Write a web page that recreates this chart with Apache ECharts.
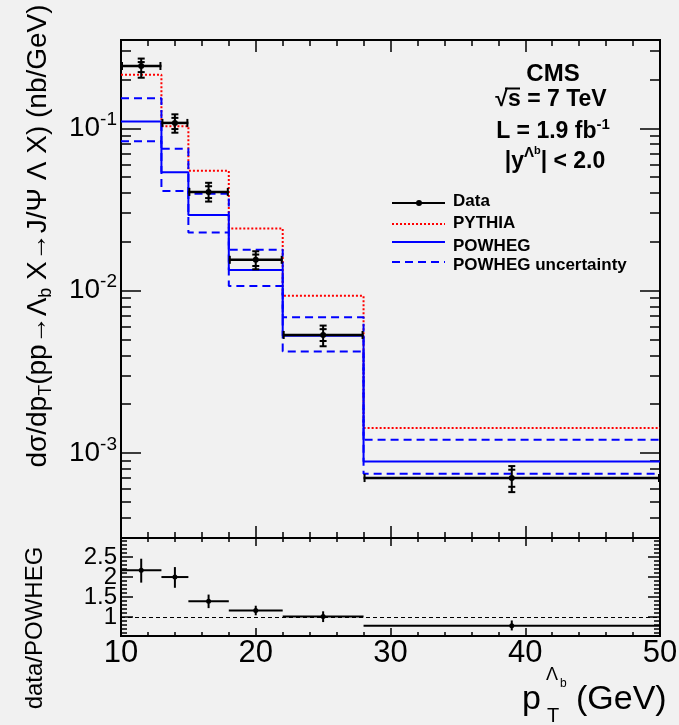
<!DOCTYPE html>
<html><head><meta charset="utf-8">
<script src="https://cdn.jsdelivr.net/npm/echarts@6/dist/echarts.min.js"></script>
<style>html,body{margin:0;padding:0;background:#f1f1f1;} #c{width:679px;height:725px;}</style>
</head><body><div id="c"></div>
<script>
// ---------- data ----------
const binLo = [10, 13, 15, 18, 22, 28];
const binHi = [13, 15, 18, 22, 28, 50];
const dataX = [11.5, 14, 16.5, 20, 25, 39];
const dataY = [0.242, 0.108, 0.0406, 0.0155, 0.00534, 0.000702];
const dataErrHi = [0.269, 0.122, 0.0462, 0.0175, 0.0061, 0.000832];
const dataErrLo = [0.205, 0.094, 0.0354, 0.01355, 0.00455, 0.000575];
const dataStatHi = [0.256, 0.116, 0.0440, 0.0167, 0.0058, 0.00079];
const dataStatLo = [0.222, 0.099, 0.0372, 0.0142, 0.0049, 0.00062];
const pythia = [0.214, 0.103, 0.0548, 0.0242, 0.00931, 0.001426];
const powheg = [0.110, 0.0537, 0.0293, 0.01343, 0.00528, 0.000889];
const powhegHi = [0.153, 0.075, 0.0395, 0.0179, 0.00686, 0.001208];
const powhegLo = [0.0832, 0.0412, 0.0228, 0.0107, 0.00422, 0.000747];
const ratio = [2.17, 2.0, 1.39, 1.16, 1.01, 0.78];
const ratioHi = [2.46, 2.25, 1.56, 1.28, 1.14, 0.91];
const ratioLo = [1.86, 1.73, 1.22, 1.04, 0.87, 0.66];
// ---------- ticks ----------
const xMajorTicks = [10, 20, 30, 40, 50];
const xMinorTicks = [12,14,16,18,22,24,26,28,32,34,36,38,42,44,46,48];
const yMajorTicks = [0.001, 0.01, 0.1];
const yMinorTicks = [0.0004,0.0005,0.0006,0.0007,0.0008,0.0009,0.002,0.003,0.004,0.005,0.006,0.007,0.008,0.009,0.02,0.03,0.04,0.05,0.06,0.07,0.08,0.09,0.2,0.3];
const rMajorTicks = [1, 1.5, 2, 2.5];
const rLabelsA = [1, 2];
const rLabelsB = [1.5, 2.5];
const rMinorTicks = [0.6,0.7,0.8,0.9,1.1,1.2,1.3,1.4,1.6,1.7,1.8,1.9,2.1,2.2,2.3,2.4,2.6,2.7,2.8,2.9];
const xRange = [10, 50];
const yRange = [0.0003, 0.35];
const rRange = [0.52, 2.98];

const F = 'Liberation Sans, Arial, Helvetica, sans-serif';
const chart = echarts.init(document.getElementById('c'), null, {renderer: 'canvas'});

function xAx(grid, pos, ticks, len, labels) {
  return {
    type: 'value', gridIndex: grid, position: pos, min: xRange[0], max: xRange[1],
    axisLine: {show: false}, splitLine: {show: false},
    axisTick: {show: true, inside: true, length: len, customValues: ticks, lineStyle: {color: '#000', width: 1.5}},
    axisLabel: labels ? {show: true, customValues: xMajorTicks, fontSize: 31, fontFamily: F, color: '#000', margin: 2, hideOverlap: false, showMinLabel: true, showMaxLabel: true} : {show: false}
  };
}
function yLog(pos, ticks, len, labels) {
  return {
    type: 'log', gridIndex: 0, position: pos, min: yRange[0], max: yRange[1], logBase: 10,
    axisLine: {show: false}, splitLine: {show: false},
    axisTick: {show: true, inside: true, length: len, customValues: ticks, lineStyle: {color: '#000', width: 1.5}},
    axisLabel: labels ? {
      show: true, customValues: yMajorTicks, margin: 4, hideOverlap: false,
      formatter: v => '{b|10}{s|' + Math.round(Math.log10(v)) + '}',
      rich: {b: {fontSize: 28, fontFamily: F, color: '#000', lineHeight: 36}, s: {fontSize: 19, fontFamily: F, color: '#000', verticalAlign: 'top', lineHeight: 22}}
    } : {show: false}
  };
}
function yRat(pos, ticks, len, labels) {
  return {
    type: 'value', gridIndex: 1, position: pos, min: rRange[0], max: rRange[1],
    axisLine: {show: false}, splitLine: {show: false},
    axisTick: {show: true, inside: true, length: len, customValues: ticks, lineStyle: {color: '#000', width: 1.5}},
    axisLabel: labels ? {show: true, customValues: labels, fontSize: 24, lineHeight: 18, fontFamily: F, color: '#000', margin: 4, hideOverlap: false, showMinLabel: true, showMaxLabel: true} : {show: false}
  };
}

function stepData(vals) {
  const pts = binLo.map((x, i) => [x, vals[i]]);
  pts.push([binHi[binHi.length - 1], vals[vals.length - 1]]);
  return pts;
}
function stepSeries(name, vals, color, type, width) {
  return {
    name: name, type: 'line', xAxisIndex: 0, yAxisIndex: 0, step: 'end', symbol: 'none',
    data: stepData(vals), lineStyle: {color: color, type: type, width: width}, silent: true, z: 3
  };
}

const dataPts = dataX.map((x, i) => [x, dataY[i], binLo[i], binHi[i], dataErrLo[i], dataErrHi[i], dataStatLo[i], dataStatHi[i]]);
const ratioPts = dataX.map((x, i) => [x, ratio[i], binLo[i], binHi[i], ratioLo[i], ratioHi[i]]);

function ln(a, b, w) { return {type: 'line', shape: {x1: a[0], y1: a[1], x2: b[0], y2: b[1]}, style: {stroke: '#000', lineWidth: w}}; }

const option = {
  backgroundColor: '#f1f1f1',
  animation: false,
  grid: [
    {left: 121, top: 40, width: 539, height: 498, show: true, borderColor: '#000', borderWidth: 2, backgroundColor: 'transparent', outerBoundsMode: 'none'},
    {left: 121, top: 538, width: 539, height: 98, show: true, borderColor: '#000', borderWidth: 2, backgroundColor: 'transparent', outerBoundsMode: 'none'}
  ],
  xAxis: [
    xAx(0, 'bottom', xMajorTicks, 12, false),
    xAx(0, 'bottom', xMinorTicks, 6, false),
    xAx(0, 'top', xMajorTicks, 12, false),
    xAx(0, 'top', xMinorTicks, 6, false),
    xAx(1, 'bottom', xMajorTicks, 8, true),
    xAx(1, 'bottom', xMinorTicks, 4, false),
    xAx(1, 'top', xMajorTicks, 8, false),
    xAx(1, 'top', xMinorTicks, 4, false)
  ],
  yAxis: [
    yLog('left', yMajorTicks, 20, true),
    yLog('left', yMinorTicks, 10, false),
    yLog('right', yMajorTicks, 20, false),
    yLog('right', yMinorTicks, 10, false),
    yRat('left', rMajorTicks, 12, rLabelsA),
    yRat('left', rMinorTicks, 6, rLabelsB),
    yRat('right', rMajorTicks, 12, null),
    yRat('right', rMinorTicks, 6, null)
  ],
  series: [
    stepSeries('PYTHIA', pythia, '#ff0000', [2, 2], 2),
    stepSeries('POWHEG uncertainty', powhegHi, '#0000ff', [8, 5], 2),
    stepSeries('POWHEG uncertainty', powhegLo, '#0000ff', [8, 5], 2),
    stepSeries('POWHEG', powheg, '#0000ff', 'solid', 2),
    {
      name: 'Data', type: 'custom', xAxisIndex: 0, yAxisIndex: 0, z: 5, silent: true,
      data: dataPts, encode: {x: 0, y: 1},
      renderItem: function (params, api) {
        const x = api.value(0), y = api.value(1);
        const c = api.coord([x, y]);
        const l = api.coord([api.value(2), y]);
        const r = api.coord([api.value(3), y]);
        const lo = api.coord([x, api.value(4)]);
        const hi = api.coord([x, api.value(5)]);
        const slo = api.coord([x, api.value(6)]);
        const shi = api.coord([x, api.value(7)]);
        const cw = 3.5, ew = 4;
        return {type: 'group', children: [
          ln(l, r, 2.5),
          ln([l[0] + 1, l[1] - ew], [l[0] + 1, l[1] + ew], 2),
          ln([r[0] - 1, r[1] - ew], [r[0] - 1, r[1] + ew], 2),
          ln(lo, hi, 2),
          ln([c[0] - cw, lo[1]], [c[0] + cw, lo[1]], 2),
          ln([c[0] - cw, hi[1]], [c[0] + cw, hi[1]], 2),
          ln([c[0] - cw, slo[1]], [c[0] + cw, slo[1]], 2),
          ln([c[0] - cw, shi[1]], [c[0] + cw, shi[1]], 2),
          {type: 'circle', shape: {cx: c[0], cy: c[1], r: 3}, style: {fill: '#000'}}
        ]};
      }
    },
    {
      name: 'Ratio', type: 'custom', xAxisIndex: 4, yAxisIndex: 4, z: 5, silent: true,
      data: ratioPts, encode: {x: 0, y: 1},
      renderItem: function (params, api) {
        const x = api.value(0), y = api.value(1);
        const c = api.coord([x, y]);
        const l = api.coord([api.value(2), y]);
        const r = api.coord([api.value(3), y]);
        const lo = api.coord([x, api.value(4)]);
        const hi = api.coord([x, api.value(5)]);
        return {type: 'group', children: [
          ln(l, r, 2),
          ln(lo, hi, 2),
          {type: 'circle', shape: {cx: c[0], cy: c[1], r: 2.5}, style: {fill: '#000'}}
        ]};
      }
    },
    {
      name: 'one', type: 'line', xAxisIndex: 4, yAxisIndex: 4, data: [], silent: true,
      markLine: {symbol: 'none', silent: true, label: {show: false}, lineStyle: {color: '#000', type: [4, 3], width: 1.2}, data: [{yAxis: 1}]}
    }
  ],
  graphic: [
    {type: 'text', x: 38, y: 236, rotation: Math.PI / 2, style: {
      text: '{m|dσ/dp}{s|T}{m|(pp→Λ}{s|b}{m| X→J/Ψ Λ X) (nb/GeV)}',
      rich: {m: {fontSize: 28, lineHeight: 34, fontFamily: F, fill: '#000'}, s: {fontSize: 18, lineHeight: 18, fontFamily: F, fill: '#000', verticalAlign: 'bottom'}},
      textAlign: 'center', textVerticalAlign: 'middle'}},
    {type: 'text', x: 35, y: 628, rotation: Math.PI / 2, style: {text: 'data/POWHEG', fontSize: 24, fontFamily: F, fill: '#000', textAlign: 'center', textVerticalAlign: 'middle'}},
    // x title
    {type: 'text', x: 522, y: 700, style: {text: 'p', fontSize: 34, fontFamily: F, fill: '#000', textAlign: 'left', textVerticalAlign: 'middle'}},
    {type: 'text', x: 547, y: 716, style: {text: 'T', fontSize: 20, fontFamily: F, fill: '#000', textAlign: 'left', textVerticalAlign: 'middle'}},
    {type: 'text', x: 546, y: 675, style: {text: 'Λ', fontSize: 18, fontFamily: F, fill: '#000', textAlign: 'left', textVerticalAlign: 'middle'}},
    {type: 'text', x: 560, y: 684, style: {text: 'b', fontSize: 12, fontFamily: F, fill: '#000', textAlign: 'left', textVerticalAlign: 'middle'}},
    {type: 'text', x: 576, y: 700, style: {text: '(GeV)', fontSize: 34, fontFamily: F, fill: '#000', textAlign: 'left', textVerticalAlign: 'middle'}},
    // CMS block
    {type: 'text', x: 553, y: 74, style: {text: 'CMS', fontSize: 24, fontWeight: 'bold', fontFamily: F, fill: '#000', textAlign: 'center', textVerticalAlign: 'middle'}},
    {type: 'text', x: 551, y: 100, style: {text: '√s = 7 TeV', fontSize: 23, fontWeight: 'bold', fontFamily: F, fill: '#000', textAlign: 'center', textVerticalAlign: 'middle'}},
    {type: 'line', shape: {x1: 505, y1: 88.5, x2: 520, y2: 88.5}, style: {stroke: '#000', lineWidth: 2}},
    {type: 'text', x: 553, y: 132, style: {text: '{m|L = 1.9 fb}{p|-1}',
      rich: {m: {fontSize: 23, fontWeight: 'bold', fontFamily: F, fill: '#000', lineHeight: 30}, p: {fontSize: 15, fontWeight: 'bold', fontFamily: F, fill: '#000', lineHeight: 15, verticalAlign: 'top'}},
      textAlign: 'center', textVerticalAlign: 'middle'}},
    {type: 'text', x: 555, y: 162, style: {text: '{m||y}{p|Λ}{q|b}{m|| < 2.0}',
      rich: {m: {fontSize: 23, fontWeight: 'bold', fontFamily: F, fill: '#000', lineHeight: 34},
             p: {fontSize: 15, fontWeight: 'bold', fontFamily: F, fill: '#000', lineHeight: 15, verticalAlign: 'top'},
             q: {fontSize: 11, fontWeight: 'bold', fontFamily: F, fill: '#000', lineHeight: 26, verticalAlign: 'top'}},
      textAlign: 'center', textVerticalAlign: 'middle'}},
    // legend
    {type: 'line', shape: {x1: 392, y1: 203, x2: 445, y2: 203}, style: {stroke: '#000', lineWidth: 2}},
    {type: 'circle', shape: {cx: 419, cy: 203, r: 3}, style: {fill: '#000'}},
    {type: 'line', shape: {x1: 392, y1: 224, x2: 445, y2: 224}, style: {stroke: '#ff0000', lineWidth: 2, lineDash: [2, 2]}},
    {type: 'line', shape: {x1: 392, y1: 242, x2: 445, y2: 242}, style: {stroke: '#0000ff', lineWidth: 2}},
    {type: 'line', shape: {x1: 392, y1: 262, x2: 445, y2: 262}, style: {stroke: '#0000ff', lineWidth: 2, lineDash: [8, 5]}},
    {type: 'text', x: 453, y: 201, style: {text: 'Data', fontSize: 17, fontWeight: 'bold', fontFamily: F, fill: '#000', textAlign: 'left', textVerticalAlign: 'middle'}},
    {type: 'text', x: 453, y: 223, style: {text: 'PYTHIA', fontSize: 17, fontWeight: 'bold', fontFamily: F, fill: '#000', textAlign: 'left', textVerticalAlign: 'middle'}},
    {type: 'text', x: 453, y: 246, style: {text: 'POWHEG', fontSize: 17, fontWeight: 'bold', fontFamily: F, fill: '#000', textAlign: 'left', textVerticalAlign: 'middle'}},
    {type: 'text', x: 453, y: 265, style: {text: 'POWHEG uncertainty', fontSize: 17, fontWeight: 'bold', fontFamily: F, fill: '#000', textAlign: 'left', textVerticalAlign: 'middle'}}
  ]
};
chart.setOption(option);
</script></body></html>
